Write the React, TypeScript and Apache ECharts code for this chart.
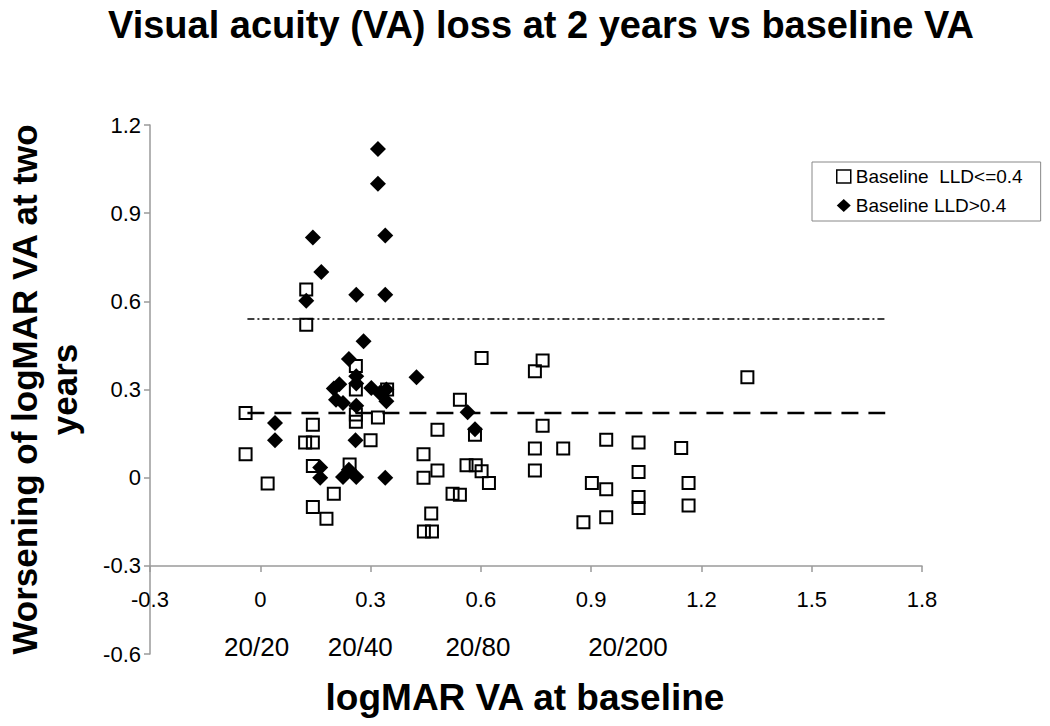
import React, { useEffect, useRef } from "react";
import * as echarts from "echarts";

const titleText = "Visual acuity (VA) loss at 2 years vs baseline VA";
const xAxisName = "logMAR VA at baseline";
const yAxisName = "Worsening of logMAR VA at two\nyears";

const seriesLowName = "Baseline  LLD<=0.4";
const seriesHighName = "Baseline LLD>0.4";

// Baseline LLD <= 0.4 (open squares): [logMAR baseline, worsening]
const lowLLD: [number, number][] = [
  [-0.04, 0.22], [-0.04, 0.08], [0.02, -0.02], [0.125, 0.64], [0.125, 0.52],
  [0.143, 0.18], [0.122, 0.12], [0.143, 0.12], [0.143, 0.04], [0.143, -0.1],
  [0.18, -0.14], [0.2, -0.055], [0.243, 0.045], [0.26, 0.38], [0.26, 0.3],
  [0.26, 0.215], [0.26, 0.19], [0.32, 0.205], [0.3, 0.127], [0.345, 0.3],
  [0.444, 0.08], [0.444, 0.0], [0.482, 0.163], [0.482, 0.024], [0.465, -0.122],
  [0.445, -0.183], [0.467, -0.183], [0.523, -0.055], [0.543, -0.058], [0.543, 0.265],
  [0.584, 0.146], [0.561, 0.042], [0.586, 0.042], [0.602, 0.022], [0.622, -0.018],
  [0.602, 0.407], [0.768, 0.399], [0.747, 0.362], [0.768, 0.177], [0.747, 0.099],
  [0.747, 0.024], [0.824, 0.099], [0.902, -0.018], [0.879, -0.152], [0.941, 0.129],
  [0.941, -0.039], [0.941, -0.135], [1.029, 0.12], [1.029, 0.019], [1.029, -0.066],
  [1.029, -0.103], [1.145, 0.101], [1.165, -0.018], [1.165, -0.095], [1.325, 0.342],
];

// Baseline LLD > 0.4 (filled diamonds)
const highLLD: [number, number][] = [
  [0.32, 1.118], [0.32, 1.0], [0.143, 0.817], [0.34, 0.824], [0.166, 0.7],
  [0.261, 0.622], [0.34, 0.622], [0.125, 0.602], [0.281, 0.464], [0.241, 0.404],
  [0.425, 0.342], [0.261, 0.345], [0.261, 0.32], [0.215, 0.318], [0.2, 0.303],
  [0.206, 0.265], [0.225, 0.254], [0.261, 0.245], [0.302, 0.305], [0.325, 0.288],
  [0.343, 0.3], [0.343, 0.26], [0.04, 0.186], [0.04, 0.127], [0.259, 0.127],
  [0.163, 0.035], [0.163, 0.0], [0.225, 0.002], [0.241, 0.027], [0.261, 0.002],
  [0.34, 0.0], [0.564, 0.223], [0.584, 0.165],
];

// Reference lines
const refLineX = [-0.035, 1.7];
const upperLimitY = 0.54;
const meanLossY = 0.22;

// Snellen equivalents under the x axis
const snellenLabels = ["20/20", "20/40", "20/80", "20/200"];
const snellenX = [-0.01, 0.272, 0.592, 1.0];
const snellenY = -0.575;

const xTicks = { min: -0.3, max: 1.8, interval: 0.3 };
const yTicks = { min: -0.6, max: 1.2, interval: 0.3 };

const FONT = "'Liberation Sans', Arial, sans-serif";

export default function App() {
  const ref = useRef<HTMLDivElement>(null);

  useEffect(() => {
    if (!ref.current) return;
    const chart = echarts.init(ref.current, null, { renderer: "svg" });
    const fmt = (v: number) => String(Math.round(v * 10) / 10);
    const axisColor = "#9a9a9a";

    chart.setOption({
      animation: false,
      backgroundColor: "#ffffff",
      textStyle: { fontFamily: FONT },
      title: {
        text: titleText,
        left: 536,
        textAlign: "center",
        top: 1,
        textStyle: { fontSize: 38, fontWeight: "bold", color: "#000", fontFamily: FONT },
      },
      legend: {
        orient: "vertical",
        left: 812,
        top: 162,
        padding: [5, 18, 6, 24],
        itemGap: 10,
        itemWidth: 14,
        itemHeight: 13,
        itemTextGap: 4,
        borderColor: "#888",
        borderWidth: 1,
        textStyle: { fontSize: 19, color: "#000", fontFamily: FONT },
        data: [
          {
            name: seriesLowName,
            icon: "rect",
            itemStyle: { color: "rgba(0,0,0,0)", borderColor: "#000", borderWidth: 1.5, opacity: 1 },
          },
          { name: seriesHighName, icon: "diamond", itemStyle: { color: "#000", opacity: 1 } },
        ],
      },
      grid: { left: 150, right: 128, top: 125, bottom: 72, containLabel: false, outerBoundsMode: "none" },
      xAxis: {
        type: "value",
        min: xTicks.min,
        max: xTicks.max,
        interval: xTicks.interval,
        position: "bottom",
        offset: -88,
        name: xAxisName,
        nameLocation: "middle",
        nameGap: 113,
        nameTextStyle: {
          fontSize: 37,
          fontWeight: "bold",
          color: "#000",
          fontFamily: FONT,
          padding: [0, 22, 0, 0],
        },
        axisLine: { show: true, onZero: false, lineStyle: { color: axisColor, width: 1.5 } },
        axisTick: { show: true, length: 6, lineStyle: { color: axisColor, width: 1.5 } },
        splitLine: { show: false },
        axisLabel: { fontSize: 22, color: "#000", margin: 22, formatter: fmt, fontFamily: FONT },
      },
      yAxis: {
        type: "value",
        min: yTicks.min,
        max: yTicks.max,
        interval: yTicks.interval,
        position: "left",
        name: yAxisName,
        nameLocation: "middle",
        nameRotate: 90,
        nameGap: 66,
        nameTextStyle: {
          fontSize: 35,
          fontWeight: "bold",
          color: "#000",
          lineHeight: 40,
          align: "center",
          fontFamily: FONT,
        },
        axisLine: { show: true, onZero: false, lineStyle: { color: axisColor, width: 1.5 } },
        axisTick: { show: true, length: 6, lineStyle: { color: axisColor, width: 1.5 } },
        splitLine: { show: false },
        axisLabel: { fontSize: 22, color: "#000", margin: 9, formatter: fmt, fontFamily: FONT },
      },
      series: [
        {
          name: "Upper limit",
          type: "line",
          data: refLineX.map((x) => [x, upperLimitY]),
          symbol: "none",
          silent: true,
          lineStyle: { color: "#000", width: 1.5, type: [7, 3, 2, 3] },
          z: 1,
        },
        {
          name: "Mean loss",
          type: "line",
          data: refLineX.map((x) => [x, meanLossY]),
          symbol: "none",
          silent: true,
          lineStyle: { color: "#000", width: 2.5, type: [17, 10] },
          z: 1,
        },
        {
          name: seriesLowName,
          type: "scatter",
          symbol: "rect",
          symbolSize: 12,
          data: lowLLD,
          itemStyle: { color: "rgba(0,0,0,0)", borderColor: "#000", borderWidth: 2, opacity: 1 },
          z: 3,
        },
        {
          name: seriesHighName,
          type: "scatter",
          symbol: "diamond",
          symbolSize: 16,
          data: highLLD,
          itemStyle: { color: "#000", opacity: 1 },
          z: 4,
        },
        {
          name: "Snellen",
          type: "scatter",
          symbolSize: 0,
          silent: true,
          data: snellenX.map((x, i) => ({ value: [x, snellenY], label: { formatter: snellenLabels[i] } })),
          itemStyle: { opacity: 1 },
          label: {
            show: true,
            position: "inside",
            fontSize: 26,
            color: "#000",
            opacity: 1,
            fontFamily: FONT,
          },
          z: 5,
        },
      ],
    });
    return () => chart.dispose();
  }, []);

  return (
    <div
      ref={ref}
      style={{ position: "fixed", left: 0, top: 0, width: 1050, height: 726, background: "#fff" }}
    />
  );
}
